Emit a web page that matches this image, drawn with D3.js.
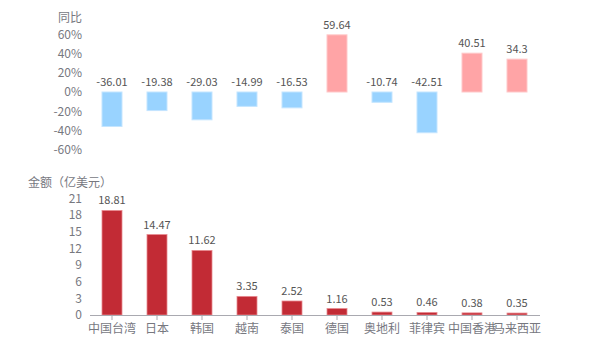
<!DOCTYPE html>
<html><head><meta charset="utf-8">
<script src="https://cdn.jsdelivr.net/npm/d3@7/dist/d3.min.js"></script>
<style>body{margin:0;background:#fff}svg{display:block}text{font-family:"Noto Sans CJK SC","Noto Sans",sans-serif}</style>
</head><body><svg id="c" width="600" height="350"></svg>
<script>
const categories = ["中国台湾","日本","韩国","越南","泰国","德国","奥地利","菲律宾","中国香港","马来西亚"];
const yoy = [-36.01,-19.38,-29.03,-14.99,-16.53,59.64,-10.74,-42.51,40.51,34.3];
const amount = [18.81,14.47,11.62,3.35,2.52,1.16,0.53,0.46,0.38,0.35];
const yoyTicks = [-60,-40,-20,0,20,40,60];
const amountTicks = [0,3,6,9,12,15,18,21];

const svg = d3.select("#c");
const x = d3.scaleBand().domain(categories).range([89.5,539.5]).paddingInner(0.5556).paddingOuter(0.2778);
const yTop = d3.scaleLinear().domain([-60,60]).range([149.5,34.5]);
const yBot = d3.scaleLinear().domain([0,21]).range([315,198.3]);
const labelColor = "#77787F";
const valueColor = "#555";

// Top chart
const gT = svg.append("g");
gT.append("text").attr("x",82).attr("y",22).attr("text-anchor","end").attr("font-size",12).attr("fill",labelColor).text("同比");
const axT = d3.axisLeft(yTop).tickValues(yoyTicks).tickFormat(d=>d+"%").tickSize(0).tickPadding(0);
const aT = gT.append("g").attr("transform","translate(82,0)").call(axT);
aT.select(".domain").remove();
aT.selectAll("text").attr("font-size",12).attr("fill",labelColor).style("font-family",'"Noto Sans CJK SC","Noto Sans",sans-serif');
gT.selectAll("rect").data(yoy).join("rect")
  .attr("x",(d,i)=>x(categories[i])).attr("width",x.bandwidth())
  .attr("y",d=>yTop(Math.max(0,d))).attr("height",d=>Math.abs(yTop(d)-yTop(0)))
  .attr("fill",d=>d>=0?"#FFA4A6":"#99D3FF")
  .attr("stroke",d=>d>=0?"#FFC8C9":"#C4E5FF").attr("stroke-width",1);
gT.selectAll("text.v").data(yoy).join("text").attr("class","v")
  .attr("x",(d,i)=>x(categories[i])+x.bandwidth()/2)
  .attr("y",d=>yTop(Math.max(0,d))-6)
  .attr("text-anchor","middle").attr("font-size",11).attr("fill",valueColor).text(d=>d);

// Bottom chart
const gB = svg.append("g");
gB.append("text").attr("x",28).attr("y",187).attr("font-size",12).attr("fill",labelColor).text("金额（亿美元）");
const axB = d3.axisLeft(yBot).tickValues(amountTicks).tickSize(0).tickPadding(0);
const aB = gB.append("g").attr("transform","translate(82,0)").call(axB);
aB.select(".domain").remove();
aB.selectAll("text").attr("font-size",12).attr("fill",labelColor).style("font-family",'"Noto Sans CJK SC","Noto Sans",sans-serif');
gB.selectAll("rect").data(amount).join("rect")
  .attr("x",(d,i)=>x(categories[i])).attr("width",x.bandwidth())
  .attr("y",d=>yBot(d)).attr("height",d=>yBot(0)-yBot(d))
  .attr("fill","#C22B35").attr("stroke","#E88A90").attr("stroke-width",0.8);
gB.selectAll("text.v").data(amount).join("text").attr("class","v")
  .attr("x",(d,i)=>x(categories[i])+x.bandwidth()/2)
  .attr("y",d=>yBot(d)-6)
  .attr("text-anchor","middle").attr("font-size",11).attr("fill",valueColor).text(d=>d.toFixed(2));
const axX = d3.axisBottom(x).tickSize(5).tickSizeOuter(0).tickPadding(4);
const aX = gB.append("g").attr("transform","translate(0,315)").call(axX);
aX.select(".domain").attr("stroke","#A9A9B0");
aX.selectAll("line").attr("stroke","#A9A9B0");
aX.selectAll("text").attr("font-size",12).attr("fill",labelColor).style("font-family",'"Noto Sans CJK SC","Noto Sans",sans-serif');
</script></body></html>
